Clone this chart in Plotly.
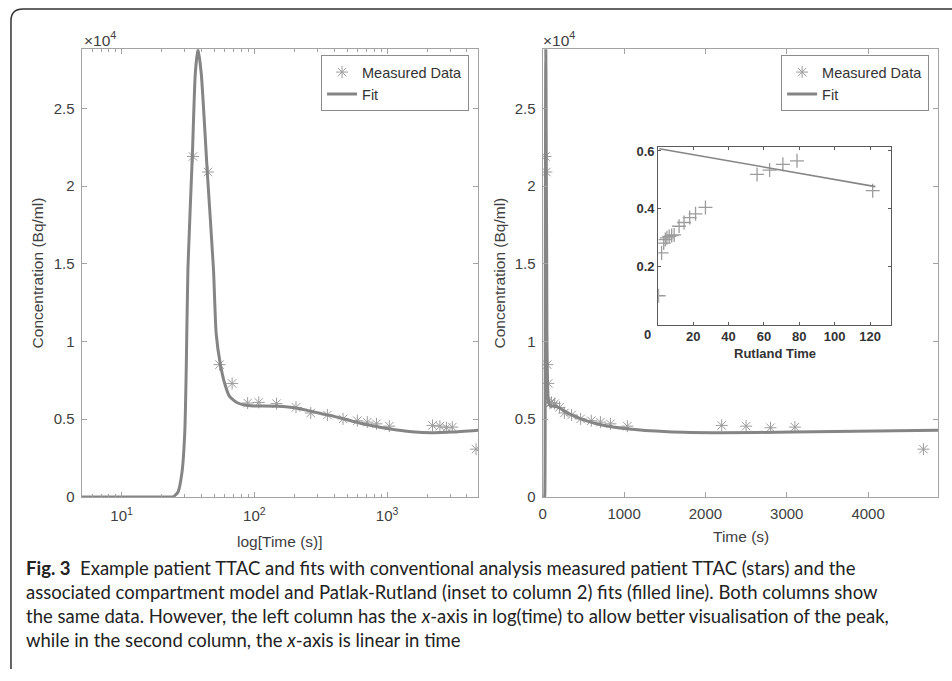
import plotly.graph_objects as go

# ---------------- data ----------------
measured_t = [34.5, 44.7, 54.7, 68, 89, 108, 147, 206, 266, 355, 466, 597, 709, 832, 1040,
              2200, 2500, 2800, 3100, 4680]
measured_c = [21900, 20900, 8510, 7300, 6040, 6080, 6000, 5760, 5400, 5270, 5020, 4900, 4810,
              4700, 4550, 4600, 4550, 4450, 4490, 3070]

fit_t = [5, 15, 22, 24.4, 26.6, 28.5, 29.9, 30.7, 31.6, 34.1, 35.9, 37.6, 39.8, 44.2, 49.2,
         51.6, 55.3, 59.7, 65.0, 75.0, 86.7, 100, 150, 206, 305, 412, 550, 727, 1030, 1540,
         2180, 3080, 4860]
fit_c = [0, 0, 0, 0, 320, 1590, 4130, 8370, 14720, 21920, 27240, 28830, 27240, 20880, 14660,
         10480, 8580, 7310, 6460, 6040, 5890, 5850, 5830, 5720, 5400, 5150, 4870, 4620, 4380,
         4190, 4130, 4170, 4290]

rutland_x = [0.4, 2.1, 3.3, 4.2, 5.1, 6.4, 7.8, 9.2, 12, 14.8, 18, 21.3, 26.9, 56.1, 63.2,
             70.7, 78.7, 121.5]
rutland_y = [0.10, 0.248, 0.282, 0.294, 0.30, 0.305, 0.308, 0.31, 0.34, 0.353, 0.37, 0.383,
             0.405, 0.519, 0.534, 0.554, 0.566, 0.463]
rutland_fit_x = [0.8, 123]
rutland_fit_y = [0.608, 0.477]

y_tickvals = [0, 5000, 10000, 15000, 20000, 25000]
y_ticktext = ["0", "0.5", "1", "1.5", "2", "2.5"]
logx_tickvals = [10, 100, 1000]
logx_ticktext = ["10<sup>1</sup>", "10<sup>2</sup>", "10<sup>3</sup>"]
logx_minor = [6, 7, 8, 9, 20, 30, 40, 50, 60, 70, 80, 90, 200, 300, 400, 500, 600, 700, 800,
              900, 2000, 3000, 4000]
linx_tickvals = [0, 1000, 2000, 3000, 4000]
inset_xticks = [20, 40, 60, 80, 100, 120]
inset_yticks = [0.2, 0.4, 0.6]

caption = ("<b>Fig. 3</b>  Example patient TTAC and fits with conventional analysis measured patient TTAC (stars) and the<br>"
           "associated compartment model and Patlak-Rutland (inset to column 2) fits (filled line). Both columns show<br>"
           "the same data. However, the left column has the <i>x</i>-axis in log(time) to allow better visualisation of the peak,<br>"
           "while in the second column, the <i>x</i>-axis is linear in time")

# ---------------- layout helpers ----------------
W, H = 952, 681
def px(x):
    return x / W
def py(y):
    return 1 - y / H

AX = "#a3a3a3"
TXT = "#404040"
LINE = "#858585"
MARK = "#9c9c9c"
FONT = "Liberation Sans, Arial, sans-serif"

fig = go.Figure()

star = dict(symbol="asterisk-open", size=10, color=MARK, line=dict(color=MARK, width=1))

# left (log) panel
fig.add_trace(go.Scatter(x=measured_t, y=measured_c, mode="markers", marker=star,
                         name="Measured Data", xaxis="x", yaxis="y", legend="legend"))
fig.add_trace(go.Scatter(x=fit_t, y=fit_c, mode="lines", name="Fit",
                         line=dict(color=LINE, width=3, shape="spline", smoothing=0.6),
                         xaxis="x", yaxis="y", legend="legend"))
# right (linear) panel
fig.add_trace(go.Scatter(x=measured_t, y=measured_c, mode="markers", marker=star,
                         name="Measured Data", xaxis="x2", yaxis="y2", legend="legend2"))
fig.add_trace(go.Scatter(x=fit_t, y=fit_c, mode="lines", name="Fit",
                         line=dict(color=LINE, width=3, shape="spline", smoothing=0.5),
                         xaxis="x2", yaxis="y2", legend="legend2"))
# inset
fig.add_trace(go.Scatter(x=rutland_x, y=rutland_y, mode="markers",
                         marker=dict(symbol="cross-thin-open", size=10, color=MARK,
                                     line=dict(color=MARK, width=1.3)),
                         showlegend=False, xaxis="x3", yaxis="y3"))
fig.add_trace(go.Scatter(x=rutland_fit_x, y=rutland_fit_y, mode="lines",
                         line=dict(color=LINE, width=1.6),
                         showlegend=False, xaxis="x3", yaxis="y3"))

common = dict(showline=True, linecolor=AX, linewidth=1.2, mirror="ticks", ticks="inside",
              ticklen=5, tickcolor=AX, showgrid=False, zeroline=False,
              tickfont=dict(family=FONT, size=15, color=TXT))

inset_font = dict(family=FONT, size=13, color="#333", weight="bold")

fig.update_layout(
    width=W, height=H, autosize=False,
    margin=dict(l=0, r=0, t=0, b=0),
    paper_bgcolor="white", plot_bgcolor="white",
    xaxis=dict(common, type="log", domain=[px(78), px(476)], anchor="y",
               range=[0.699, 3.685], tickmode="array", tickvals=logx_tickvals,
               ticktext=logx_ticktext, ticklabelstandoff=5,
               minor=dict(tickmode="array", tickvals=logx_minor, ticks="inside",
                          ticklen=3, tickcolor=AX, showgrid=False)),
    yaxis=dict(common, domain=[py(502), py(47)], anchor="x", range=[0, 28800],
               tickmode="array", tickvals=y_tickvals, ticktext=y_ticktext,
               ticklabelstandoff=3),
    xaxis2=dict(common, domain=[px(541), px(938)], anchor="y2", range=[0, 4860],
                tickmode="array", tickvals=linx_tickvals, ticklabelstandoff=3),
    yaxis2=dict(common, domain=[py(502), py(47)], anchor="x2", range=[0, 28800],
                tickmode="array", tickvals=y_tickvals, ticktext=y_ticktext,
                ticklabelstandoff=3),
    xaxis3=dict(showline=True, linecolor="#5a5a5a", linewidth=1.2, mirror="ticks",
                ticks="inside", ticklen=3, tickcolor="#5a5a5a", showgrid=False,
                zeroline=False, domain=[px(657), px(891)], anchor="y3",
                range=[0.2, 132], tickmode="array", tickvals=inset_xticks,
                tickfont=inset_font),
    yaxis3=dict(showline=True, linecolor="#5a5a5a", linewidth=1.2, mirror="ticks",
                ticks="inside", ticklen=3, tickcolor="#5a5a5a", showgrid=False,
                zeroline=False, domain=[py(327), py(146)], anchor="x3",
                range=[0, 0.615], tickmode="array", tickvals=inset_yticks,
                tickfont=inset_font),
    legend=dict(x=px(467), xanchor="right", y=py(53), yanchor="top",
                bgcolor="white", bordercolor="#8c8c8c", borderwidth=1,
                font=dict(family=FONT, size=14.5, color="#333"), tracegroupgap=0),
    legend2=dict(x=px(929), xanchor="right", y=py(53), yanchor="top",
                 bgcolor="white", bordercolor="#8c8c8c", borderwidth=1,
                 font=dict(family=FONT, size=14.5, color="#333"), tracegroupgap=0),
    showlegend=True,
)

ann_font = dict(family=FONT, size=15.5, color=TXT)
annotations = [
    dict(text="×10<sup>4</sup>", x=px(78), y=py(37), xanchor="left", yanchor="middle",
         font=ann_font),
    dict(text="×10<sup>4</sup>", x=px(539), y=py(37), xanchor="left", yanchor="middle",
         font=ann_font),
    dict(text="Concentration (Bq/ml)", x=px(34), y=py(274), textangle=-90,
         xanchor="center", yanchor="middle", font=ann_font),
    dict(text="Concentration (Bq/ml)", x=px(498), y=py(274), textangle=-90,
         xanchor="center", yanchor="middle", font=ann_font),
    dict(text="log[Time (s)]", x=px(277), y=py(547), xanchor="center", yanchor="middle",
         font=ann_font),
    dict(text="Time (s)", x=px(740), y=py(542), xanchor="center", yanchor="middle",
         font=ann_font),
    dict(text="<b>Rutland Time</b>", x=px(774), y=py(356), xanchor="center",
         yanchor="middle", font=dict(family=FONT, size=13, color="#333")),
    dict(text="<b>0</b>", x=px(646), y=py(337), xanchor="center", yanchor="middle",
         font=dict(family=FONT, size=13, color="#333")),
    dict(text=caption, x=px(20), y=py(561), xanchor="left", yanchor="top", align="left",
         font=dict(family="Lato, Liberation Sans, sans-serif", size=18.5, color="#222")),
]
for a in annotations:
    a.setdefault("showarrow", False)
    a.setdefault("xref", "paper")
    a.setdefault("yref", "paper")
fig.update_layout(annotations=annotations)

# outer frame with rounded top-left corner
fig.add_shape(type="path", xref="paper", yref="paper",
              path=f"M {px(7)},{py(677)} L {px(7)},{py(18)} Q {px(7)},{py(6)} {px(19)},{py(6)} L {px(952)},{py(6)}",
              line=dict(color="#333", width=1.5))

fig.write_html("out.html", config={"displayModeBar": False},
               post_script="document.body.style.margin='0';document.body.style.overflow='hidden';")
